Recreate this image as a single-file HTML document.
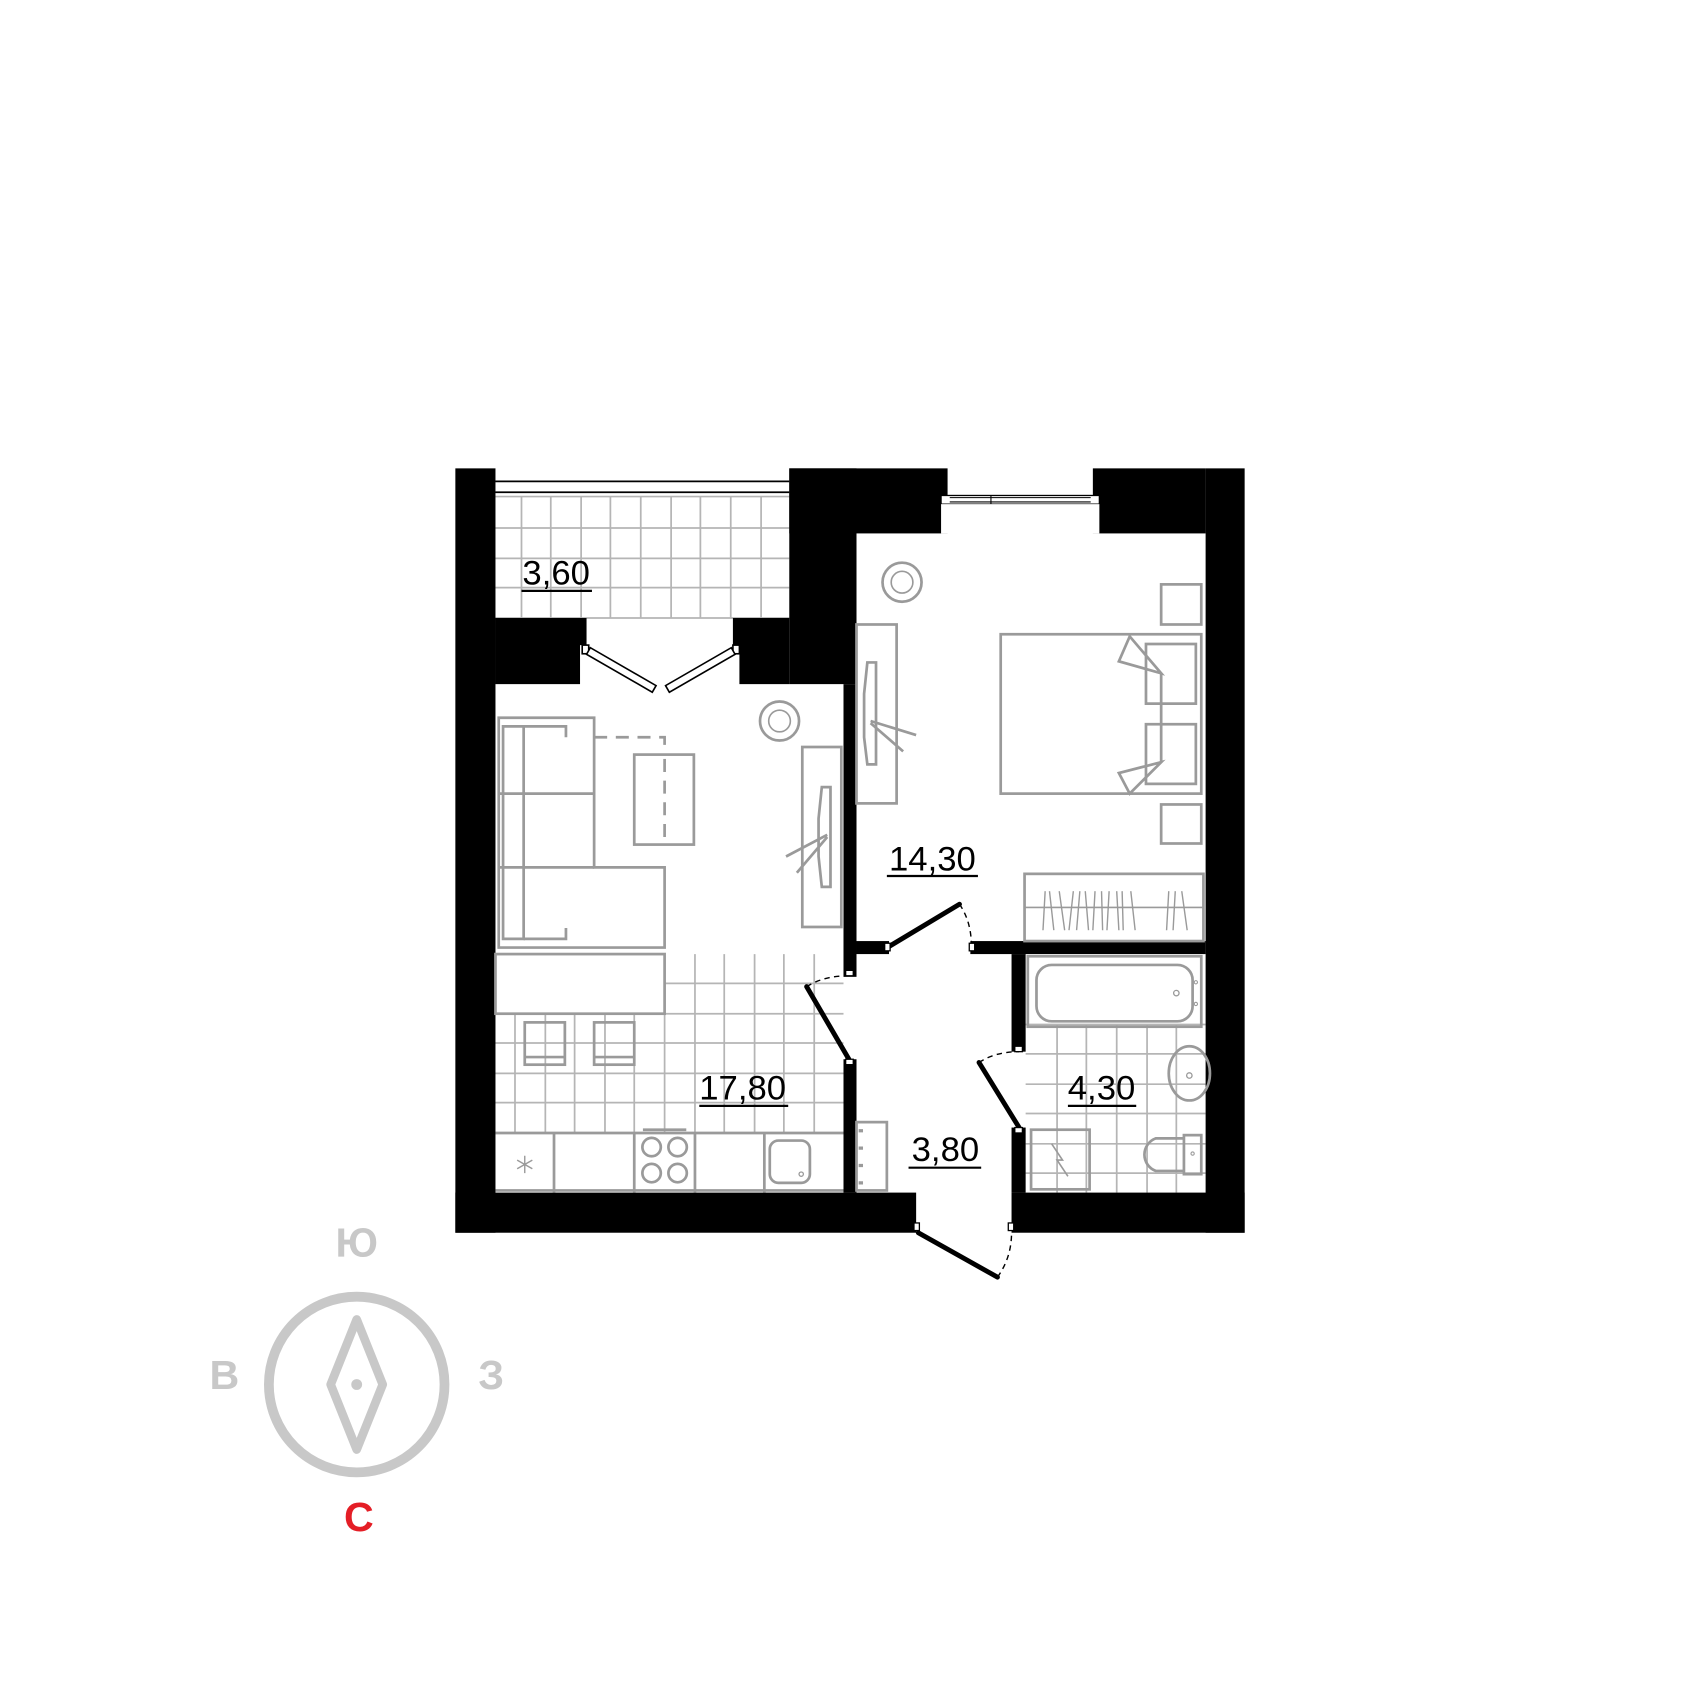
<!DOCTYPE html>
<html><head><meta charset="utf-8"><style>html,body{margin:0;padding:0;background:#fff}svg{display:block}</style></head>
<body>
<svg width="1700" height="1700" viewBox="0 0 1568 1568" xmlns="http://www.w3.org/2000/svg" font-family="Liberation Sans, sans-serif">
<rect width="1568" height="1568" fill="#fff"/>
<!-- tile grids -->
<g stroke="#b5b5b5" stroke-width="1.6" fill="none">
  <!-- balcony -->
  <path d="M457 458H728M457 487H728M457 515H728M457 542H728M457 570H728"/>
  <path d="M481 458V570M508 458V570M536 458V570M563 458V570M591 458V570M619 458V570M646 458V570M674 458V570M702 458V570"/>
  <!-- kitchen -->
  <path d="M613 907H778M457 935H778M457 962H778M457 990H778M457 1017H778M457 1045H778"/>
  <path d="M613 880V1045M641 880V1045M668 880V1045M696 880V1045M723 880V1045M751 880V1045"/>
  <path d="M475 935V1045M503 935V1045M530 935V1045M558 935V1045M585 935V1045"/>
  <!-- bath -->
  <path d="M946 945H1112M946 972H1112M946 1000H1112M946 1027H1112M946 1055H1112M946 1082H1112"/>
  <path d="M975 945V1100M1002 945V1100M1030 945V1100M1058 945V1100M1085 945V1100"/>
</g>
<!-- balcony railing -->
<path d="M457 444H728M457 454H728" stroke="#000" stroke-width="1.6"/>
<!-- walls -->
<g fill="#000">
  <rect x="420" y="432" width="37" height="705"/>
  <rect x="420" y="1100" width="425" height="37"/>
  <rect x="933" y="1100" width="215" height="37"/>
  <rect x="1112" y="432" width="36" height="705"/>
  <rect x="728" y="432" width="146" height="60"/>
  <rect x="1008" y="432" width="104" height="60"/>
  <rect x="728" y="432" width="62" height="199"/>
  <rect x="778" y="631" width="12" height="270"/>
  <rect x="778" y="977" width="12" height="123"/>
  <path d="M457 570H541V595H535V631H457Z"/>
  <path d="M676 570H728V631H682V595H676Z"/>
  <rect x="790" y="868" width="30" height="12"/>
  <rect x="895" y="868" width="217" height="12"/>
  <rect x="933" y="880" width="13" height="90"/>
  <rect x="933" y="1040" width="13" height="60"/>
</g>
<!-- window bedroom -->
<rect x="868" y="457" width="146" height="8" fill="#fff" stroke="#000" stroke-width="1.2"/>
<path d="M876 459H1006M876 463H1006M914 457V465" stroke="#000" stroke-width="1"/>
<rect x="868" y="465" width="146" height="27" fill="#fff"/>
<!-- balcony glass doors -->
<g fill="#fff" stroke="#000" stroke-width="1.5">
  <rect x="537" y="595" width="6" height="8"/>
  <rect x="676" y="595" width="6" height="8"/>
  <g transform="translate(543,600) rotate(30)"><rect x="0" y="-3" width="70" height="7"/></g>
  <g transform="translate(676,600) rotate(150)"><rect x="0" y="-4" width="70" height="7"/></g>
</g>
<!-- doors -->
<g stroke="#000" stroke-width="4.5" stroke-linecap="round" fill="none">
  <path d="M820 873L885 834"/>
  <path d="M783 977L744 910"/>
  <path d="M940 1040L903 980"/>
  <path d="M847 1137L920 1178"/>
</g>
<g stroke="#000" stroke-width="1.3" fill="none" stroke-dasharray="5 4">
  <path d="M885 834Q896 850 896 873"/>
  <path d="M744 910Q760 900 783 900"/>
  <path d="M903 980Q918 970 940 970"/>
  <path d="M920 1178Q933 1160 933 1137"/>
</g>
<g fill="#fff" stroke="#000" stroke-width="1.2">
  <rect x="816" y="870" width="5" height="7"/><rect x="894" y="870" width="5" height="7"/>
  <rect x="780" y="895" width="7" height="5"/><rect x="780" y="977" width="7" height="5"/>
  <rect x="936" y="965" width="7" height="5"/><rect x="936" y="1040" width="7" height="5"/>
  <rect x="843" y="1128" width="5" height="7"/><rect x="930" y="1128" width="5" height="7"/>
</g>
<!-- furniture -->
<g stroke="#9a9a9a" stroke-width="2.5" fill="none">
  <!-- sofa -->
  <path d="M460 662H548V800H613V874H460Z"/>
  <path d="M460 732H548M460 800H548"/>
  <path d="M464 670H483V866H464Z"/>
  <path d="M483 670H522V680M483 866H522V856"/>
  <path d="M548 680H613V696" stroke-dasharray="12 8"/>
  <rect x="585" y="696" width="55" height="83"/>
  <path d="M613 700V779" stroke-dasharray="12 8"/>
  <circle cx="719" cy="665" r="18"/><circle cx="719" cy="665" r="10" stroke-width="1.5"/>
  <rect x="740" y="689" width="36" height="166"/>
  <path d="M758 726H766V818H758L755 790V755Z"/>
  <path d="M763 770L725 790M763 772L735 805"/>
  <!-- kitchen -->
  <rect x="457" y="880" width="156" height="55"/>
  <rect x="484" y="943" width="37" height="39"/><path d="M484 975H521"/>
  <rect x="548" y="943" width="37" height="39"/><path d="M548 975H585"/>
  <path d="M457 1045H778M511 1045V1100M585 1045V1100M641 1045V1100M705 1045V1100M457 1098H778"/>
  <path d="M593 1042H633"/>
  <circle cx="601" cy="1058" r="8.5"/><circle cx="625" cy="1058" r="8.5"/>
  <circle cx="601" cy="1082" r="8.5"/><circle cx="625" cy="1082" r="8.5"/>
  <rect x="710" y="1052" width="37" height="39" rx="8"/>
  <circle cx="739" cy="1083" r="2" stroke-width="1.2"/>
  <path d="M484 1066V1082M477 1070L491 1078M491 1070L477 1078" stroke-width="1.3"/>
  <!-- bedroom -->
  <circle cx="832" cy="537" r="18"/><circle cx="832" cy="537" r="10" stroke-width="1.5"/>
  <rect x="790" y="576" width="37" height="165"/>
  <path d="M800 611H808V705H800L797 680V640Z"/>
  <path d="M803 665L845 678M803 667L833 693"/>
  <rect x="923" y="585" width="185" height="147"/>
  <rect x="1057" y="594" width="46" height="55"/>
  <rect x="1057" y="668" width="46" height="55"/>
  <path d="M1071 621L1042 587L1032 610Z"/>
  <path d="M1071 703L1032 713L1042 732Z"/>
  <path d="M1071 621V703"/>
  <rect x="1071" y="539" width="37" height="37"/>
  <rect x="1071" y="742" width="37" height="36"/>
  <rect x="945" y="806" width="165" height="62"/>
  <path d="M945 837H1110" stroke-width="1.5"/>
  <path d="M964 822L962 858M968 822L972 858M977 822L982 858M990 822L986 858M996 822L993 858M1001 822L1004 858M1010 822L1008 858M1016 822L1017 858M1023 822L1021 858M1030 822L1032 858M1035 822L1036 858M1043 822L1047 858M1078 822L1076 858M1084 822L1082 858M1090 822L1095 858" stroke-width="1.3"/>
  <!-- bath -->
  <rect x="948" y="882" width="160" height="65"/>
  <rect x="956" y="890" width="144" height="52" rx="14"/>
  <circle cx="1085" cy="916" r="2.5" stroke-width="1.2"/>
  <circle cx="1103" cy="906" r="1.5" stroke-width="1"/><circle cx="1103" cy="926" r="1.5" stroke-width="1"/>
  <ellipse cx="1097" cy="990" rx="19" ry="25"/>
  <circle cx="1097" cy="992" r="2.5" stroke-width="1.2"/>
  <rect x="951" y="1042" width="54" height="55"/>
  <path d="M970 1055L980 1070L975 1070L985 1085" stroke-width="1.5"/>
  <path d="M1092 1050H1066A16 16 0 0 0 1066 1080H1092"/>
  <rect x="1092" y="1047" width="16" height="36"/>
  <circle cx="1100" cy="1064" r="1.5" stroke-width="1"/>
  <!-- corridor shelf -->
  <rect x="790" y="1035" width="28" height="63"/>
  <path d="M792 1043h4M792 1059h4M792 1075h4M792 1091h4" stroke-width="3"/>
</g>
<!-- labels -->
<g font-size="32" fill="#000" text-anchor="middle">
  <text x="513" y="539">3,60</text>
  <text x="685" y="1014">17,80</text>
  <text x="860" y="803">14,30</text>
  <text x="872" y="1071">3,80</text>
  <text x="1016" y="1014">4,30</text>
</g>
<g stroke="#000" stroke-width="2">
  <path d="M481 545H546M645 1020H727M818 808H902M838 1077H905M985 1020H1048"/>
</g>
<!-- compass -->
<circle cx="329" cy="1277" r="81" fill="none" stroke="#c8c8c8" stroke-width="9"/>
<path d="M329 1217L353 1277L329 1337L305 1277Z" fill="none" stroke="#c8c8c8" stroke-width="8" stroke-linejoin="round"/>
<circle cx="329" cy="1277" r="5" fill="#c8c8c8"/>
<g font-size="38" font-weight="bold" text-anchor="middle" fill="#c8c8c8">
  <text x="329" y="1159">Ю</text>
  <text x="207" y="1281">В</text>
  <text x="453" y="1281">З</text>
  <text x="331" y="1412" fill="#e41e26">С</text>
</g>
</svg>
</body></html>
